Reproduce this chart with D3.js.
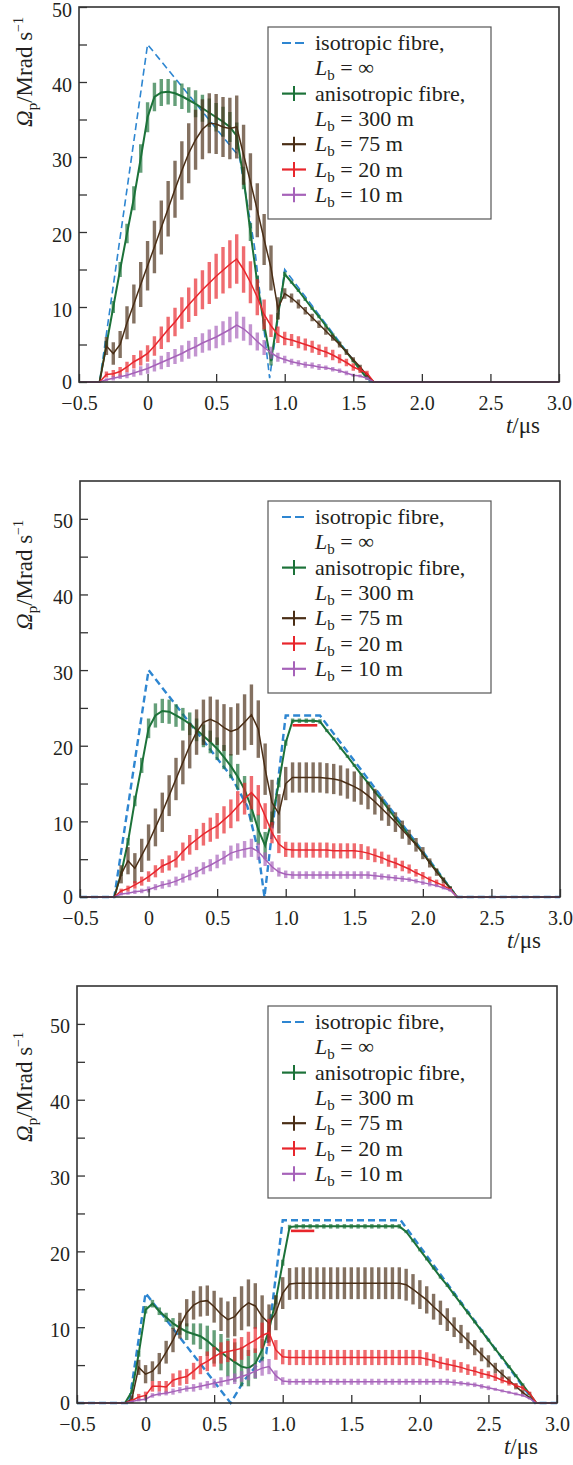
<!DOCTYPE html>
<html>
<head>
<meta charset="utf-8">
<script src="https://cdn.jsdelivr.net/npm/d3@7"></script>
<style>
  body { margin: 0; background: #fff; }
  svg { display: block; }
  text { font-family: 'Liberation Serif', 'Times New Roman', serif; fill: #231f20; }
</style>
</head>
<body>
<div id="vis"></div>
<script>
// time axis (us) and sampling of the simulated series
const tDomain = [-0.5, 3.0]
const xTicks = [-0.5, 0, 0.5, 1.0, 1.5, 2.0, 2.5, 3.0]
const tStep = 0.05
const tStart = [-0.35, -0.25, -0.15]

// ---- panel 1 ----
const iso1 = [[-0.5, 0], [-0.35, 0], [0, 45], [0.67, 30], [0.78, 18], [0.89, 0.5], [1.0, 15], [1.62, 0], [3.0, 0]]
const aniso1 = [0, 5, 10, 15, 19.8, 24.5, 29.8, 35.3, 38, 38.6, 38.7, 38.5, 38.1, 37.6, 37.1, 36.5, 35.9, 35.3, 34.7, 34.0, 32.8,
  27.2, 20.0, 13.2, 7.6, 2.8, 8.8, 14.4, 13.3, 12.2, 11.0, 9.8, 8.7, 7.5, 6.3, 5.1, 4.0, 2.8, 1.6, 0.5, 0]
const aniso1Err = [0, 0.5, 0.8, 1.0, 1.3, 1.6, 1.9, 2.0, 1.9, 1.8, 1.7, 1.7, 1.7, 1.7, 1.8, 1.8, 1.9, 1.9, 2.0, 2.0, 1.8,
  1.5, 1.2, 1.0, 0.8, 0.6, 0.4, 0.3, 0.2, 0.2, 0.2, 0.2, 0.2, 0.2, 0.2, 0.2, 0.2, 0.2, 0.2, 0.2, 0]
const lb75a = [0, 4.8, 3.8, 5.0, 7.9, 10.4, 13.0, 15.5, 18.0, 20.6, 23.1, 25.7, 28.2, 30.5, 32.3, 33.7, 34.5, 34.4, 34.0, 33.8, 34.0,
  30.3, 26.7, 22.9, 19.0, 15.2, 9.8, 11.8, 11.2, 10.4, 9.5, 8.6, 7.7, 6.8, 5.9, 5.0, 4.0, 3.0, 2.0, 0.9, 0]
const lb75aErr = [0, 1.2, 1.5, 1.8, 2.2, 2.6, 3.0, 3.3, 3.5, 3.6, 3.7, 3.8, 3.9, 4.0, 4.0, 4.0, 4.0, 4.0, 4.0, 4.1, 4.2,
  4.0, 3.8, 3.6, 3.4, 3.0, 1.5, 0.7, 0.6, 0.6, 0.5, 0.5, 0.5, 0.5, 0.4, 0.4, 0.4, 0.3, 0.3, 0.2, 0]
const lb20a = [0, 1.0, 1.1, 1.4, 2.0, 2.7, 3.2, 3.8, 4.8, 5.9, 7.0, 8.0, 9.2, 10.3, 11.3, 12.3, 13.2, 14.1, 14.9, 15.7, 16.4,
  15.0, 13.3, 11.3, 9.0, 7.5, 6.3, 5.8, 5.6, 5.3, 5.0, 4.7, 4.3, 4.0, 3.6, 3.1, 2.6, 2.0, 1.6, 1.2, 0]
const lb20aErr = [0, 0.4, 0.5, 0.6, 0.7, 0.9, 1.0, 1.1, 1.3, 1.5, 1.7, 1.9, 2.1, 2.3, 2.5, 2.6, 2.8, 3.0, 3.1, 3.2, 3.3,
  3.1, 2.8, 2.4, 2.0, 1.5, 1.1, 0.9, 0.8, 0.8, 0.8, 0.8, 0.7, 0.7, 0.7, 0.6, 0.5, 0.5, 0.4, 0.3, 0]
const lb10a = [0, 0.3, 0.5, 0.7, 0.9, 1.2, 1.5, 1.8, 2.2, 2.6, 3.0, 3.4, 3.8, 4.3, 4.7, 5.2, 5.6, 6.0, 6.5, 7.0, 7.6,
  7.1, 6.3, 5.4, 4.6, 3.9, 3.3, 3.0, 2.7, 2.5, 2.3, 2.2, 2.0, 1.9, 1.7, 1.5, 1.2, 0.9, 0.8, 0.5, 0]
const lb10aErr = [0, 0.2, 0.3, 0.3, 0.4, 0.5, 0.6, 0.7, 0.8, 0.9, 1.0, 1.0, 1.1, 1.2, 1.3, 1.3, 1.4, 1.5, 1.6, 1.7, 1.8,
  1.6, 1.4, 1.2, 1.0, 0.8, 0.6, 0.5, 0.4, 0.4, 0.4, 0.4, 0.4, 0.3, 0.3, 0.3, 0.3, 0.2, 0.2, 0.2, 0]

// ---- panel 2 ----
const iso2 = [[-0.5, 0], [-0.25, 0], [0, 30], [0.3, 23], [0.6, 16], [0.72, 12], [0.8, 6], [0.845, 0], [1.0, 24.0], [1.25, 24.0], [2.25, 0], [3.0, 0]]
const aniso2 = [0, 3.1, 7.3, 12.7, 17.4, 22.3,
  24.0, 24.6, 24.5, 24.0, 23.5, 22.9, 22.1, 21.3, 20.5, 19.6, 18.5, 17.3, 15.9, 14.2, 11.8, 8.9, 6.8, 10.3, 15.1, 20.4,
  23.3, 23.3, 23.3, 23.3, 23.2, 22.0, 20.9, 19.7, 18.6, 17.4, 16.2, 15.1, 13.9, 12.8, 11.6, 10.4, 9.3, 8.1, 7.0, 5.8, 4.6, 3.5, 2.3, 1.2, 0]
const aniso2Err = [0, 0.3, 0.5, 0.7, 1.0, 1.3,
  1.6, 1.6, 1.6, 1.5, 1.5, 1.5, 1.5, 1.5, 1.5, 1.5, 1.6, 1.6, 1.7, 1.8, 1.9, 2.0, 1.8, 1.0, 0.6, 0.4,
  0.3, 0.3, 0.3, 0.3, 0.3, 0.2, 0.2, 0.2, 0.2, 0.2, 0.2, 0.2, 0.2, 0.2, 0.2, 0.2, 0.2, 0.2, 0.2, 0.2, 0.2, 0.2, 0.2, 0.2, 0]
const lb75b = [0, 3.0, 4.8, 3.8, 5.5, 7.2,
  9.2, 11.2, 13.4, 15.6, 17.8, 20.0, 21.8, 23.1, 23.5, 23.1, 22.4, 21.9, 22.2, 23.1, 24.1, 22.2, 16.9, 12.5, 11.0, 15.0,
  15.8, 15.8, 15.8, 15.8, 15.8, 15.7, 15.6, 15.4, 15.0, 14.6, 14.1, 13.4, 12.6, 11.7, 10.8, 9.9, 8.9, 7.9, 6.9, 5.8, 4.5, 3.3, 2.2, 1.1, 0]
const lb75bErr = [0, 1.2, 1.8, 2.0, 2.2, 2.4,
  2.5, 2.6, 2.7, 2.8, 2.9, 3.0, 3.0, 3.0, 3.0, 3.0, 3.1, 3.2, 3.4, 3.7, 4.0, 3.8, 3.4, 3.0, 2.6, 2.2,
  2.0, 2.0, 2.0, 2.0, 2.0, 2.0, 2.0, 2.0, 2.0, 2.0, 1.9, 1.8, 1.7, 1.6, 1.4, 1.3, 1.2, 1.0, 0.9, 0.8, 0.6, 0.5, 0.4, 0.3, 0]
const lb20b = [0, 0.8, 1.1, 1.6, 2.1, 2.7,
  3.4, 4.1, 4.5, 5.0, 6.0, 6.9, 7.6, 8.3, 8.9, 9.4, 10.2, 11.0, 12.0, 13.0, 13.8, 12.8, 10.7, 8.5, 7.0, 6.3,
  6.2, 6.2, 6.2, 6.2, 6.2, 6.2, 6.1, 6.1, 6.1, 6.1, 6.0, 5.8, 5.5, 5.2, 4.8, 4.5, 4.1, 3.7, 3.2, 2.8, 2.3, 1.9, 1.5, 1.0, 0]
const lb20bErr = [0, 0.3, 0.4, 0.5, 0.6, 0.7,
  0.8, 0.9, 1.0, 1.1, 1.2, 1.3, 1.4, 1.5, 1.6, 1.7, 1.8, 1.9, 2.0, 2.1, 2.2, 2.0, 1.7, 1.4, 1.2, 1.0,
  1.0, 1.0, 1.0, 1.0, 1.0, 1.0, 1.0, 1.0, 1.0, 1.0, 1.0, 0.9, 0.9, 0.8, 0.8, 0.7, 0.7, 0.6, 0.5, 0.5, 0.4, 0.4, 0.3, 0.2, 0]
const lb10b = [0, 0.4, 0.5, 0.7, 0.8, 1.0,
  1.3, 1.6, 1.8, 2.1, 2.5, 2.9, 3.3, 3.8, 4.2, 4.7, 5.2, 5.8, 6.1, 6.3, 6.5, 6.0, 5.0, 4.0, 3.3, 3.0,
  2.9, 2.9, 2.9, 2.9, 2.9, 2.9, 2.9, 2.9, 2.9, 2.9, 2.9, 2.9, 2.8, 2.7, 2.6, 2.5, 2.4, 2.3, 2.1, 1.9, 1.7, 1.5, 1.2, 0.9, 0]
const lb10bErr = [0, 0.2, 0.2, 0.3, 0.3, 0.4,
  0.4, 0.5, 0.5, 0.6, 0.6, 0.7, 0.7, 0.8, 0.8, 0.9, 0.9, 1.0, 1.0, 1.1, 1.2, 1.1, 0.9, 0.7, 0.6, 0.5,
  0.5, 0.5, 0.5, 0.5, 0.5, 0.5, 0.5, 0.5, 0.5, 0.5, 0.5, 0.5, 0.5, 0.4, 0.4, 0.4, 0.4, 0.3, 0.3, 0.3, 0.3, 0.2, 0.2, 0.2, 0]
const stub2 = [[1.05, 22.7], [1.23, 22.7]]

// ---- panel 3 ----
const iso3 = [[-0.5, 0], [-0.12, 0], [0, 14.5], [0.62, 0], [0.72, 3], [0.88, 6.5], [1.0, 24.1], [1.86, 24.1], [2.84, 0], [3.0, 0]]
const aniso3 = [0, 1.5, 6.5, 12.3,
  13.1, 12.1, 11.3, 10.5, 9.9, 9.4, 9.1, 8.8, 8.2, 7.4, 6.7, 6.0, 5.4, 4.8, 4.6, 5.2, 7.0, 9.6, 13.6, 18.5,
  23.2, 23.3, 23.3, 23.3, 23.3, 23.3, 23.3, 23.3, 23.3, 23.3, 23.3, 23.3, 23.3, 23.3, 23.3, 23.3, 23.3,
  22.6, 21.4, 20.2, 19.0, 17.8, 16.6, 15.5, 14.3, 13.1, 11.9, 10.7, 9.5, 8.3, 7.1, 6.0, 4.8, 3.6, 2.4, 1.2, 0]
const aniso3Err = [0, 0.3, 0.4, 0.5,
  0.5, 0.5, 0.6, 0.7, 0.9, 1.1, 1.4, 1.7, 2.0, 2.2, 2.4, 2.5, 2.6, 2.6, 2.4, 2.0, 1.5, 1.0, 0.6, 0.4,
  0.3, 0.3, 0.3, 0.3, 0.3, 0.3, 0.3, 0.3, 0.3, 0.3, 0.3, 0.3, 0.3, 0.3, 0.3, 0.3, 0.3,
  0.2, 0.2, 0.2, 0.2, 0.2, 0.2, 0.2, 0.2, 0.2, 0.2, 0.2, 0.2, 0.2, 0.2, 0.2, 0.2, 0.2, 0.2, 0.2, 0]
const lb75c = [0, 0.5, 4.7, 3.8,
  4.2, 5.2, 6.7, 8.3, 10.2, 11.9, 12.9, 13.4, 13.5, 12.7, 11.7, 11.0, 11.4, 12.5, 13.2, 12.8, 11.4, 10.5, 11.9, 14.5,
  15.7, 15.8, 15.8, 15.8, 15.8, 15.8, 15.8, 15.8, 15.8, 15.8, 15.8, 15.8, 15.8, 15.8, 15.8, 15.8, 15.8,
  15.6, 15.0, 14.3, 13.6, 12.7, 11.9, 11.0, 10.0, 9.1, 8.2, 7.3, 6.4, 5.5, 4.6, 3.8, 3.0, 2.2, 1.4, 0.7, 0]
const lb75cErr = [0, 0.5, 1.0, 1.2,
  1.3, 1.4, 1.5, 1.6, 1.7, 1.8, 1.9, 2.0, 2.0, 2.1, 2.2, 2.4, 2.6, 2.9, 3.1, 3.0, 2.8, 2.5, 2.3, 2.1,
  2.1, 2.1, 2.1, 2.1, 2.1, 2.1, 2.1, 2.1, 2.1, 2.1, 2.1, 2.1, 2.1, 2.1, 2.1, 2.1, 2.1,
  2.1, 2.0, 1.9, 1.8, 1.7, 1.6, 1.5, 1.3, 1.2, 1.1, 1.0, 0.9, 0.8, 0.7, 0.6, 0.5, 0.4, 0.3, 0.2, 0]
const lb20c = [0, 0.3, 0.8, 1.0,
  2.2, 2.2, 2.1, 3.0, 3.3, 3.5, 4.2, 5.0, 5.5, 6.1, 6.6, 6.8, 7.0, 7.2, 7.8, 8.3, 8.9, 9.3, 7.0, 6.1,
  6.0, 6.0, 6.0, 6.0, 6.0, 6.0, 6.0, 6.0, 6.0, 6.0, 6.0, 6.0, 6.0, 6.0, 6.0, 6.0, 6.0, 6.0, 6.0, 6.0,
  5.8, 5.6, 5.3, 5.1, 4.9, 4.7, 4.4, 4.2, 3.9, 3.7, 3.4, 3.0, 2.7, 2.3, 2.0, 1.3, 0]
const lb20cErr = [0, 0.2, 0.4, 0.5,
  0.7, 0.7, 0.8, 0.9, 1.0, 1.0, 1.1, 1.2, 1.3, 1.3, 1.4, 1.4, 1.5, 1.5, 1.6, 1.7, 1.7, 1.8, 1.3, 1.0,
  1.0, 1.0, 1.0, 1.0, 1.0, 1.0, 1.0, 1.0, 1.0, 1.0, 1.0, 1.0, 1.0, 1.0, 1.0, 1.0, 1.0, 1.0, 1.0, 1.0,
  0.9, 0.9, 0.8, 0.8, 0.8, 0.7, 0.7, 0.6, 0.6, 0.5, 0.5, 0.4, 0.4, 0.3, 0.3, 0.2, 0]
const lb10c = [0, 0.2, 0.4, 0.5,
  1.0, 1.2, 1.3, 1.5, 1.7, 1.9, 2.0, 2.2, 2.4, 2.6, 2.8, 3.0, 3.2, 3.5, 3.8, 4.2, 4.6, 4.8, 3.6, 2.9,
  2.8, 2.8, 2.8, 2.8, 2.8, 2.8, 2.8, 2.8, 2.8, 2.8, 2.8, 2.8, 2.8, 2.8, 2.8, 2.8, 2.8, 2.8, 2.8, 2.8, 2.8, 2.8, 2.8, 2.8,
  2.7, 2.6, 2.5, 2.4, 2.2, 2.0, 1.8, 1.6, 1.4, 1.2, 1.0, 0.6, 0]
const lb10cErr = [0, 0.1, 0.2, 0.2,
  0.3, 0.3, 0.3, 0.4, 0.4, 0.4, 0.5, 0.5, 0.5, 0.6, 0.6, 0.6, 0.7, 0.7, 0.8, 0.9, 1.0, 1.0, 0.7, 0.5,
  0.4, 0.4, 0.4, 0.4, 0.4, 0.4, 0.4, 0.4, 0.4, 0.4, 0.4, 0.4, 0.4, 0.4, 0.4, 0.4, 0.4, 0.4, 0.4, 0.4, 0.4, 0.4, 0.4, 0.4,
  0.4, 0.3, 0.3, 0.3, 0.3, 0.3, 0.2, 0.2, 0.2, 0.2, 0.2, 0.1, 0]
const stub3 = [[1.06, 22.7], [1.23, 22.7]]

const colors = { iso: '#2e86d1', aniso: '#1c7239', l75: '#4a2e16', l20: '#e8262c', l10: '#a662b9' }
const legendRows = ['isotropic fibre,', '∞', 'anisotropic fibre,', '300 m', '75 m', '20 m', '10 m']
const legendKeys = ['iso', null, 'aniso', null, 'l75', 'l20', 'l10']

const W = 573, H = 1465
const svg = d3.select('#vis').append('svg').attr('width', W).attr('height', H)

const panels = [
  { top: 7, bottom: 382, left: 79, right: 559, ymax: 50, labelTop: 17, isoWidth: 1.6, t0: tStart[0],
    iso: iso1, stub: null,
    series: [['aniso', aniso1, aniso1Err], ['l75', lb75a, lb75aErr], ['l20', lb20a, lb20aErr], ['l10', lb10a, lb10aErr]] },
  { top: 481, bottom: 897, left: 80, right: 560, ymax: 55, labelTop: 520, isoWidth: 2.4, t0: tStart[1],
    iso: iso2, stub: stub2,
    series: [['aniso', aniso2, aniso2Err], ['l75', lb75b, lb75bErr], ['l20', lb20b, lb20bErr], ['l10', lb10b, lb10bErr]] },
  { top: 986, bottom: 1403, left: 77, right: 557, ymax: 55, labelTop: 1032, isoWidth: 2.4, t0: tStart[2],
    iso: iso3, stub: stub3,
    series: [['aniso', aniso3, aniso3Err], ['l75', lb75c, lb75cErr], ['l20', lb20c, lb20cErr], ['l10', lb10c, lb10cErr]] },
]

panels.forEach(drawPanel)

function drawPanel(p) {
  const x = d3.scaleLinear().domain(tDomain).range([p.left, p.right])
  const y = d3.scaleLinear().domain([0, p.ymax]).range([p.bottom, p.top])
  const line = d3.line().x(d => x(d[0])).y(d => y(d[1]))
  const g = svg.append('g')

  // isotropic fibre, dashed
  g.append('path')
    .datum(p.iso)
    .attr('d', line)
    .attr('fill', 'none')
    .attr('stroke', colors.iso)
    .attr('stroke-width', p.isoWidth)
    .attr('stroke-dasharray', '7,4')

  p.series.forEach(function (s) {
    const col = colors[s[0]]
    const pts = s[1].map((v, i) => ({ t: p.t0 + i * tStep, v: v, e: s[2][i] }))
    // error bars
    g.append('g')
      .selectAll('line')
      .data(pts.filter(d => d.e > 0))
      .join('line')
      .attr('x1', d => x(d.t))
      .attr('x2', d => x(d.t))
      .attr('y1', d => y(Math.max(0, d.v - d.e)))
      .attr('y2', d => y(d.v + d.e))
      .attr('stroke', col)
      .attr('stroke-width', 3.4)
      .attr('stroke-opacity', 0.68)
    const full = [[tDomain[0], 0]].concat(pts.map(d => [d.t, d.v]), [[tDomain[1], 0]])
    g.append('path')
      .datum(full)
      .attr('d', line)
      .attr('fill', 'none')
      .attr('stroke', col)
      .attr('stroke-width', s[0] == 'aniso' ? 2 : 1.5)
  })

  if (p.stub) {
    g.append('path').datum(p.stub).attr('d', line)
      .attr('stroke', colors.l20).attr('stroke-width', 2.6).attr('fill', 'none')
  }

  // axes with inward ticks
  const yAxis = g.append('g')
    .attr('transform', 'translate(' + p.left + ',0)')
    .call(d3.axisLeft(y).tickValues(d3.range(0, 51, 5)).tickSize(-8).tickPadding(7)
      .tickFormat(d => (d % 10 === 0 ? d : '')))
  yAxis.selectAll('text').attr('dy', d => (d === 0 ? '0.3em' : '0.45em'))
  const xAxis = g.append('g')
    .attr('transform', 'translate(0,' + p.bottom + ')')
    .call(d3.axisBottom(x).tickValues(xTicks).tickSize(-8).tickPadding(14)
      .tickFormat(d => (d === 0 ? '0' : d3.format('.1f')(d))))
  ;[yAxis, xAxis].forEach(a => {
    a.select('.domain').remove()
    a.attr('font-size', 20).attr('font-family', null).attr('color', '#333')
    a.selectAll('line').attr('stroke-width', 1.3)
  })

  g.append('rect')
    .attr('x', p.left).attr('y', p.top)
    .attr('width', p.right - p.left).attr('height', p.bottom - p.top)
    .attr('fill', 'none').attr('stroke', '#333').attr('stroke-width', 1.6)

  // axis titles
  const yl = g.append('text')
    .attr('transform', 'translate(32,' + p.labelTop + ') rotate(-90)')
    .attr('text-anchor', 'end')
    .attr('font-size', 23)
  yl.append('tspan').attr('font-style', 'italic').text('Ω')
  yl.append('tspan').attr('font-size', 15).attr('dy', 5).text('p')
  yl.append('tspan').attr('dy', -5).text('/Mrad s')
  yl.append('tspan').attr('font-size', 14).attr('dy', -9).text('−1')

  const xl = g.append('text')
    .attr('x', p.right - 19).attr('y', p.bottom + 51)
    .attr('text-anchor', 'end')
    .attr('font-size', 23)
  xl.append('tspan').attr('font-style', 'italic').text('t')
  xl.append('tspan').text('/μs')

  drawLegend(g, p)
}

function drawLegend(g, p) {
  const lx = 268, ly = p.top + 20, lw = 223, lh = 192
  g.append('rect')
    .attr('x', lx).attr('y', ly).attr('width', lw).attr('height', lh)
    .attr('fill', '#fff').attr('stroke', '#555').attr('stroke-width', 1.2)

  legendRows.forEach(function (label, k) {
    const base = ly + 23 + k * 25.3
    const key = legendKeys[k]
    if (key) {
      const cy = base - 7
      g.append('line').attr('x1', 282).attr('x2', 306).attr('y1', cy).attr('y2', cy)
        .attr('stroke', colors[key]).attr('stroke-width', 2.2)
        .attr('stroke-dasharray', key == 'iso' ? '9,4' : null)
      if (key != 'iso') {
        g.append('line').attr('x1', 294).attr('x2', 294).attr('y1', cy - 7.5).attr('y2', cy + 7.5)
          .attr('stroke', colors[key]).attr('stroke-width', 2)
      }
    }
    const t = g.append('text').attr('x', 315).attr('y', base).attr('font-size', 22)
    if (label.indexOf('fibre') >= 0) {
      t.text(label)
    } else {
      t.append('tspan').attr('font-style', 'italic').text('L')
      t.append('tspan').attr('font-size', 15).attr('dy', 5).text('b')
      t.append('tspan').attr('dy', -5).text(' = ' + label)
    }
  })
}
</script>
</body>
</html>
